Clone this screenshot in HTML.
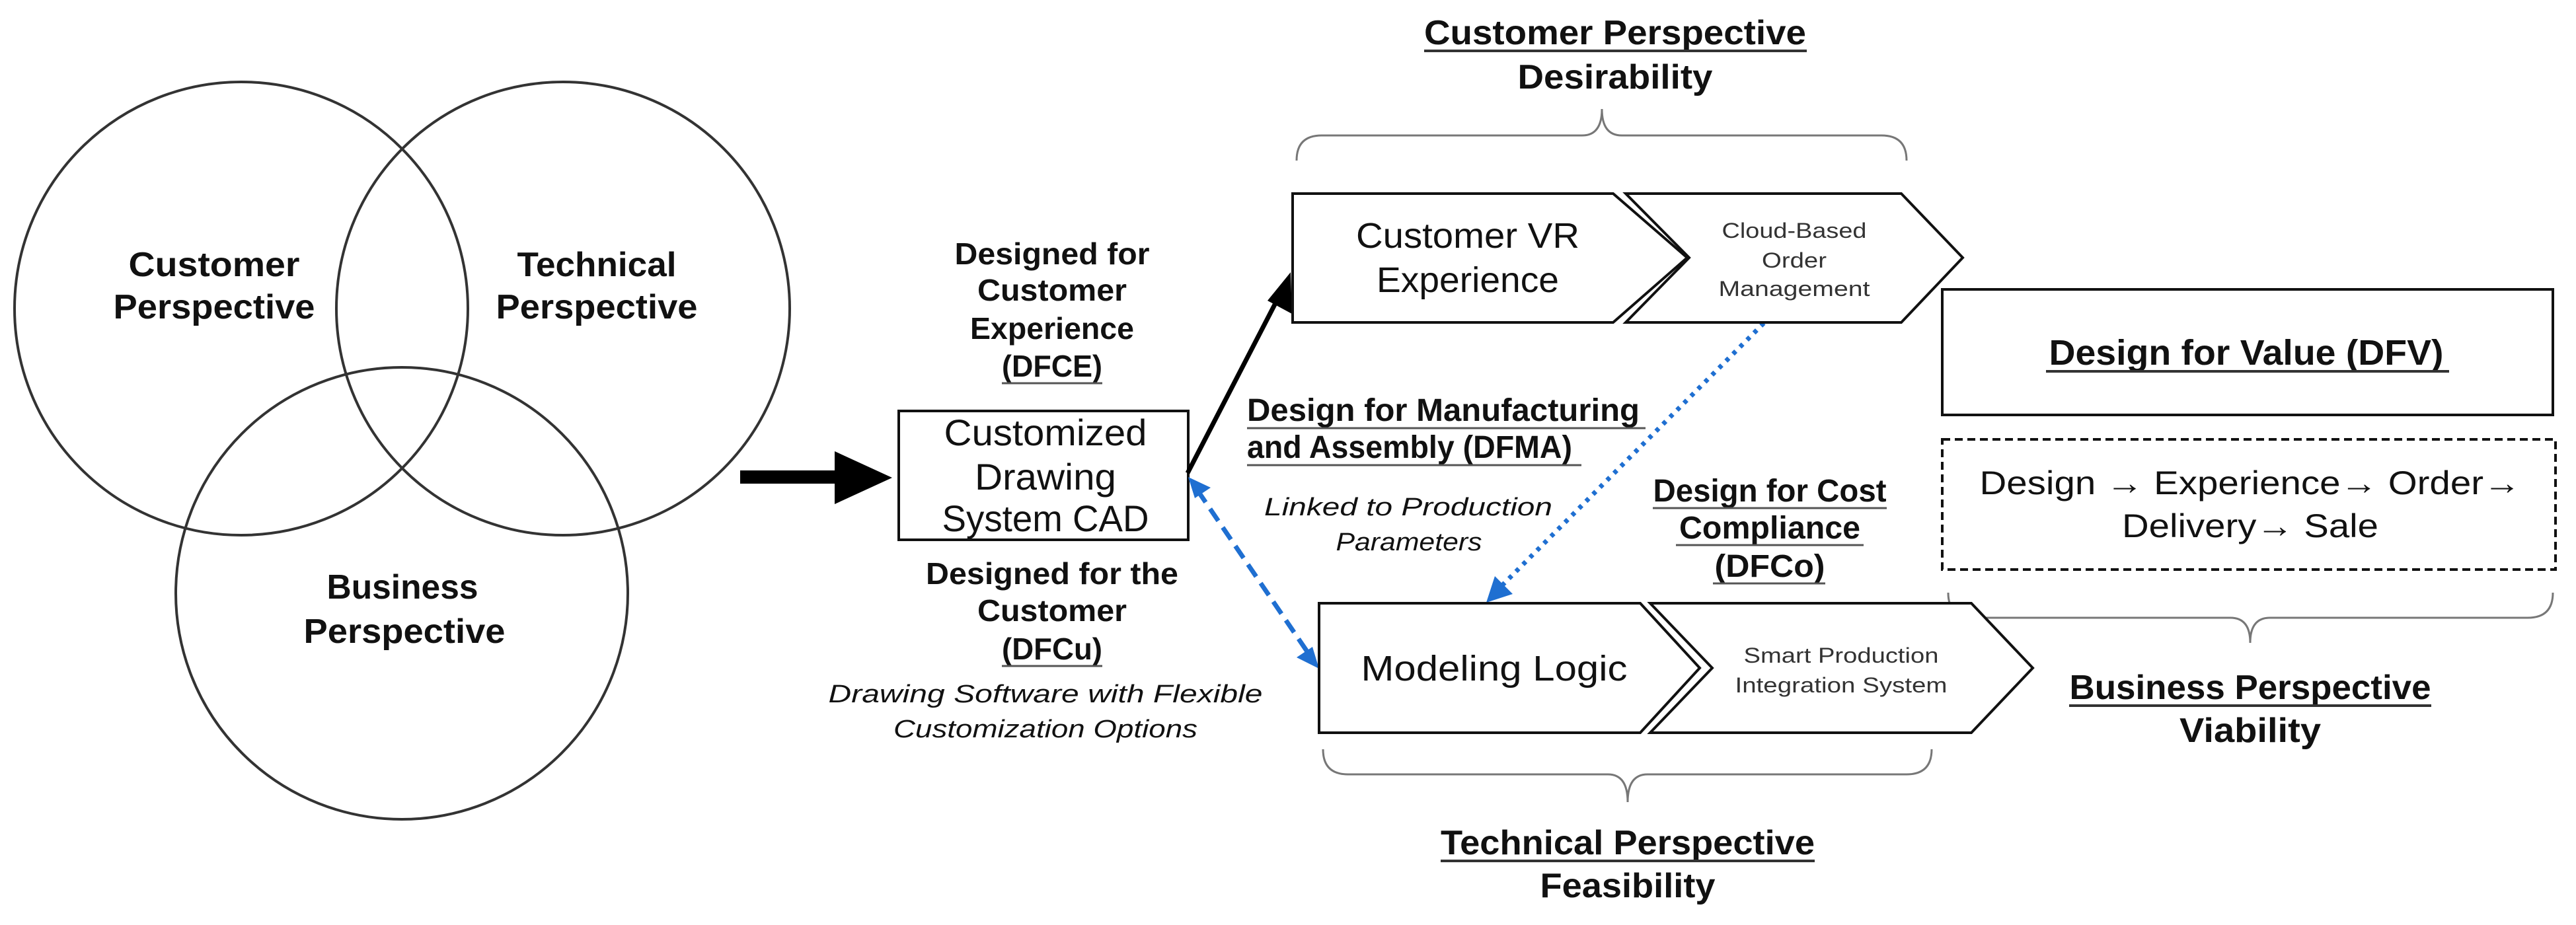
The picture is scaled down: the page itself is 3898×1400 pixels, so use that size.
<!DOCTYPE html>
<html><head><meta charset="utf-8"><style>
html,body{margin:0;padding:0;background:#fff;}
svg{display:block;}
text{font-family:"Liberation Sans",sans-serif;fill:#111;}
.b{font-weight:bold;}
.m{font-family:"Liberation Mono",monospace;font-style:italic;fill:#555;}
</style></head><body>
<svg width="3898" height="1400" viewBox="0 0 3898 1400" xmlns="http://www.w3.org/2000/svg">
<defs>
<marker id="ak" markerWidth="8" markerHeight="8" refX="6" refY="4" orient="auto" markerUnits="userSpaceOnUse" viewBox="0 0 8 8"><path d="M0,0 L8,4 L0,8 Z" fill="#000"/></marker>
</defs>
<!-- Venn -->
<g fill="none" stroke="#333" stroke-width="4">
<circle cx="365" cy="467" r="343"/>
<circle cx="852" cy="467" r="343"/>
<circle cx="608" cy="898" r="342"/>
</g>
<g class="b" font-size="52" text-anchor="middle">
<text x="324" y="418" textLength="259" lengthAdjust="spacingAndGlyphs">Customer</text>
<text x="324" y="482" textLength="305" lengthAdjust="spacingAndGlyphs">Perspective</text>
<text x="903" y="418" textLength="241" lengthAdjust="spacingAndGlyphs">Technical</text>
<text x="903" y="482" textLength="305" lengthAdjust="spacingAndGlyphs">Perspective</text>
<text x="609" y="906" textLength="229" lengthAdjust="spacingAndGlyphs">Business</text>
<text x="612" y="973" textLength="305" lengthAdjust="spacingAndGlyphs">Perspective</text>
</g>
<!-- big arrow -->
<rect x="1120" y="712" width="150" height="20" fill="#000"/>
<polygon points="1263,683 1350,723 1263,763" fill="#000"/>
<!-- CAD box -->
<rect x="1360" y="622" width="438" height="195" fill="none" stroke="#111" stroke-width="4"/>
<g font-size="56" text-anchor="middle">
<text x="1582" y="674" textLength="307" lengthAdjust="spacingAndGlyphs">Customized</text>
<text x="1582" y="741" textLength="214" lengthAdjust="spacingAndGlyphs">Drawing</text>
<text x="1582" y="804" textLength="313" lengthAdjust="spacingAndGlyphs">System CAD</text>
</g>
<g class="b" font-size="46" text-anchor="middle">
<text x="1592" y="400" textLength="295" lengthAdjust="spacingAndGlyphs">Designed for</text>
<text x="1592" y="455" textLength="226" lengthAdjust="spacingAndGlyphs">Customer</text>
<text x="1592" y="513" textLength="248" lengthAdjust="spacingAndGlyphs">Experience</text>
<text x="1592" y="570" textLength="152" lengthAdjust="spacingAndGlyphs">(DFCE)</text>
<text x="1592" y="884" textLength="382" lengthAdjust="spacingAndGlyphs">Designed for the</text>
<text x="1592" y="940" textLength="226" lengthAdjust="spacingAndGlyphs">Customer</text>
<text x="1592" y="998" textLength="152" lengthAdjust="spacingAndGlyphs">(DFCu)</text>
</g>
<g stroke="#555" stroke-width="3">
<line x1="1516" y1="580" x2="1668" y2="580"/>
<line x1="1516" y1="1008" x2="1668" y2="1008"/>
</g>
<g class="m" font-size="38" text-anchor="middle">
<text x="1582" y="1063" textLength="657" lengthAdjust="spacingAndGlyphs">Drawing Software with Flexible</text>
<text x="1582" y="1116" textLength="460" lengthAdjust="spacingAndGlyphs">Customization Options</text>
</g>
<!-- black arrow -->
<line x1="1797" y1="716" x2="1946" y2="428" stroke="#000" stroke-width="7"/>
<polygon points="1953,412 1955,475 1918,455" fill="#000"/>
<!-- blue dashed double arrow -->
<line x1="1812" y1="742" x2="1982" y2="992" stroke="#1f6fd1" stroke-width="7" stroke-dasharray="22,12"/>
<polygon points="1798,722 1832,738 1808,754" fill="#1f6fd1"/>
<polygon points="1996,1012 1962,995 1986,979" fill="#1f6fd1"/>
<!-- blue dotted arrow -->
<line x1="2669" y1="489" x2="2265" y2="894" stroke="#1f6fd1" stroke-width="7" stroke-dasharray="6,9"/>
<polygon points="2249,912 2262,872 2289,899" fill="#1f6fd1"/>
<!-- top brace -->
<g fill="none" stroke="#777" stroke-width="3">
<path d="M1962,243 Q1962,205 2000,205 L2394,205 Q2424,205 2424,165 Q2424,205 2454,205 L2847,205 Q2885,205 2885,243"/>
<path d="M2948,897 Q2948,935 2986,935 L3375,935 Q3405,935 3405,973 Q3405,935 3435,935 L3825,935 Q3863,935 3863,897"/>
<path d="M2002,1134 Q2002,1172 2040,1172 L2433,1172 Q2463,1172 2463,1214 Q2463,1172 2493,1172 L2885,1172 Q2923,1172 2923,1134"/>
</g>
<!-- chevrons -->
<g fill="#fff" stroke="#111" stroke-width="4" stroke-linejoin="miter">
<path d="M1956,293 L2441,293 L2553,390 L2441,488 L1956,488 Z"/>
<path d="M2460,293 L2877,293 L2970,390 L2877,488 L2460,488 L2556,390 Z"/>
<path d="M1996,913 L2482,913 L2572,1011 L2482,1109 L1996,1109 Z"/>
<path d="M2497,913 L2983,913 L3076,1011 L2983,1109 L2497,1109 L2591,1011 Z"/>
</g>
<g font-size="54" text-anchor="middle">
<text x="2221" y="375" textLength="338" lengthAdjust="spacingAndGlyphs">Customer VR</text>
<text x="2221" y="442" textLength="276" lengthAdjust="spacingAndGlyphs">Experience</text>
<text x="2261" y="1030" textLength="403" lengthAdjust="spacingAndGlyphs">Modeling Logic</text>
</g>
<g font-size="32" text-anchor="middle" style="fill:#333">
<text x="2715" y="360" textLength="219" lengthAdjust="spacingAndGlyphs" style="fill:#333">Cloud-Based</text>
<text x="2715" y="405" textLength="98" lengthAdjust="spacingAndGlyphs" style="fill:#333">Order</text>
<text x="2715" y="448" textLength="229" lengthAdjust="spacingAndGlyphs" style="fill:#333">Management</text>
<text x="2786" y="1003" textLength="295" lengthAdjust="spacingAndGlyphs" style="fill:#333">Smart Production</text>
<text x="2786" y="1048" textLength="321" lengthAdjust="spacingAndGlyphs" style="fill:#333">Integration System</text>
</g>
<!-- perspective titles -->
<g class="b" font-size="52" text-anchor="middle">
<text x="2444" y="67" textLength="578" lengthAdjust="spacingAndGlyphs">Customer Perspective</text>
<text x="2444" y="134" textLength="295" lengthAdjust="spacingAndGlyphs">Desirability</text>
<text x="2463" y="1293" textLength="566" lengthAdjust="spacingAndGlyphs">Technical Perspective</text>
<text x="2463" y="1358" textLength="265" lengthAdjust="spacingAndGlyphs">Feasibility</text>
<text x="3405" y="1058" textLength="547" lengthAdjust="spacingAndGlyphs">Business Perspective</text>
<text x="3405" y="1123" textLength="214" lengthAdjust="spacingAndGlyphs">Viability</text>
</g>
<g stroke="#333" stroke-width="4">
<line x1="2155" y1="77" x2="2734" y2="77"/>
<line x1="2180" y1="1303" x2="2746" y2="1303"/>
<line x1="3131" y1="1068" x2="3679" y2="1068"/>
</g>
<!-- DFMA -->
<g class="b" font-size="48">
<text x="1887" y="637" textLength="594" lengthAdjust="spacingAndGlyphs">Design for Manufacturing</text>
<text x="1887" y="693" textLength="492" lengthAdjust="spacingAndGlyphs">and Assembly (DFMA)</text>
</g>
<g stroke="#555" stroke-width="3">
<line x1="1887" y1="648" x2="2490" y2="648"/>
<line x1="1887" y1="704" x2="2393" y2="704"/>
</g>
<g class="m" font-size="38" text-anchor="middle">
<text x="2131" y="780" textLength="436" lengthAdjust="spacingAndGlyphs">Linked to Production</text>
<text x="2132" y="833" textLength="221" lengthAdjust="spacingAndGlyphs">Parameters</text>
</g>
<!-- DFCo -->
<g class="b" font-size="48" text-anchor="middle">
<text x="2678" y="759" textLength="353" lengthAdjust="spacingAndGlyphs">Design for Cost</text>
<text x="2678" y="815" textLength="274" lengthAdjust="spacingAndGlyphs">Compliance</text>
<text x="2678" y="873" textLength="167" lengthAdjust="spacingAndGlyphs">(DFCo)</text>
</g>
<g stroke="#555" stroke-width="3">
<line x1="2501" y1="769" x2="2855" y2="769"/>
<line x1="2536" y1="825" x2="2820" y2="825"/>
<line x1="2592" y1="883" x2="2762" y2="883"/>
</g>
<!-- DFV -->
<rect x="2939" y="438" width="924" height="190" fill="none" stroke="#111" stroke-width="4"/>
<text class="b" x="3399" y="552" font-size="54" text-anchor="middle" textLength="597" lengthAdjust="spacingAndGlyphs">Design for Value (DFV)</text>
<line x1="3096" y1="562" x2="3706" y2="562" stroke="#333" stroke-width="4"/>
<rect x="2939" y="665" width="928" height="197" fill="none" stroke="#111" stroke-width="4" stroke-dasharray="12,7"/>
<g font-size="50" text-anchor="middle">
<text x="3405" y="748" textLength="819" lengthAdjust="spacingAndGlyphs">Design → Experience→ Order→</text>
<text x="3405" y="813" textLength="388" lengthAdjust="spacingAndGlyphs">Delivery→ Sale</text>
</g>
</svg>
</body></html>
